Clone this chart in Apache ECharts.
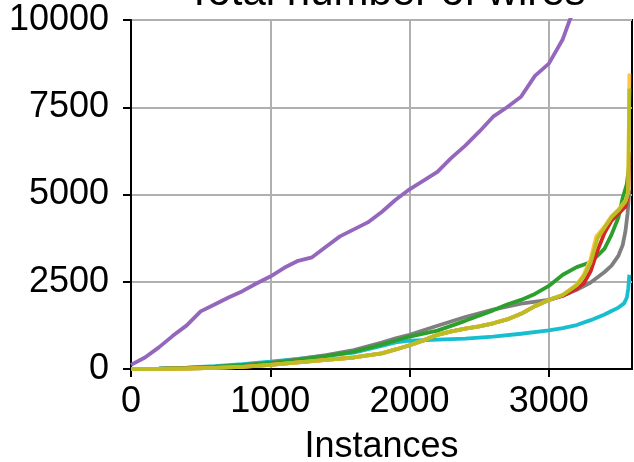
<!DOCTYPE html>
<html>
<head>
<meta charset="utf-8">
<script src="https://cdn.jsdelivr.net/npm/echarts@6/dist/echarts.min.js"></script>
<style>
html,body{margin:0;padding:0;background:#fff;}
#chart{width:634px;height:462px;}
</style>
</head>
<body>
<div id="chart"></div>
<script>
var xTicks = [0, 1000, 2000, 3000];
var yTicks = [0, 2500, 5000, 7500, 10000];

var purpleX = [0,100,200,300,400,500,600,700,800,900,1000,1100,1200,1300,1400,1500,1600,1700,1800,1900,2000,2100,2200,2300,2400,2500,2600,2700,2800,2900,3000,3100,3150,3200,3300,3400,3500,3578];
var purpleY = [120,330,620,950,1250,1650,1850,2050,2230,2450,2650,2900,3100,3200,3500,3800,4000,4200,4500,4850,5150,5400,5650,6050,6400,6800,7230,7500,7800,8400,8750,9450,10000,10400,11100,11900,12800,13600];

var cyanX = [0,200,400,600,800,1000,1200,1400,1600,1800,1900,2000,2200,2400,2600,2800,3000,3100,3200,3300,3400,3450,3500,3540,3560,3570,3578];
var cyanY = [0,10,40,80,140,210,290,380,470,660,760,810,840,870,930,1010,1110,1170,1260,1400,1560,1660,1760,1880,2050,2300,2700];

var grayX = [0,200,400,600,800,1000,1200,1400,1600,1800,1900,2000,2200,2400,2600,2800,3000,3100,3200,3300,3400,3450,3500,3530,3550,3565,3578];
var grayY = [0,10,30,60,110,180,280,400,540,760,880,980,1240,1490,1700,1870,1980,2100,2270,2480,2780,2960,3250,3550,3950,4450,5130];

var greenX = [0,200,400,600,800,1000,1200,1400,1600,1800,2000,2200,2400,2600,2700,2800,2900,3000,3100,3200,3300,3350,3400,3450,3500,3530,3560,3578];
var greenY = [0,10,30,60,110,170,260,370,500,700,930,1100,1380,1680,1850,1980,2150,2380,2700,2920,3060,3250,3450,3850,4350,4900,5300,5900];

var redX = [0,200,400,600,800,1000,1200,1400,1600,1800,1900,2000,2100,2200,2300,2400,2500,2600,2700,2800,2900,3000,3100,3200,3250,3300,3350,3400,3450,3500,3550,3570,3578];
var redY = [0,5,15,30,60,120,190,260,330,450,560,680,820,980,1080,1160,1220,1310,1420,1580,1800,1980,2100,2300,2450,2800,3400,3900,4250,4450,4650,5000,6200];

var orangeX = [0,200,400,600,800,1000,1200,1400,1600,1800,1900,2000,2100,2200,2300,2400,2500,2600,2700,2800,2900,3000,3100,3200,3250,3300,3340,3400,3450,3500,3550,3570,3578];
var orangeY = [0,5,15,30,60,120,190,260,330,450,560,680,820,980,1080,1160,1220,1310,1420,1580,1800,1980,2130,2420,2700,3150,3800,4080,4380,4570,4820,5070,8470];

var oliveX = [0,200,400,600,800,1000,1200,1400,1600,1800,1900,2000,2100,2200,2300,2400,2500,2600,2700,2800,2900,3000,3100,3200,3250,3300,3350,3400,3450,3500,3550,3570,3578];
var oliveY = [0,5,15,30,60,120,190,260,330,450,560,680,820,980,1080,1160,1220,1310,1420,1580,1800,1980,2120,2400,2650,3050,3750,4050,4350,4550,4800,5050,8040];

function pairs(xs, ys) {
  var out = [];
  for (var i = 0; i < xs.length; i++) out.push([xs[i], ys[i]]);
  return out;
}

var seriesDefs = [
  {name: 'purple', xs: purpleX, ys: purpleY, color: '#9467bd'},
  {name: 'cyan', xs: cyanX, ys: cyanY, color: '#17becf'},
  {name: 'gray', xs: grayX, ys: grayY, color: '#7f7f7f'},
  {name: 'green', xs: greenX, ys: greenY, color: '#2ca02c'},
  {name: 'red', xs: redX, ys: redY, color: '#d62728'},
  {name: 'orange', xs: orangeX, ys: orangeY, color: '#ffc44e'},
  {name: 'olive', xs: oliveX, ys: oliveY, color: '#bcbd22'}
];

var font = 'Liberation Sans, Arial, sans-serif';
var plain = function (v) { return String(v); };
var chart = echarts.init(document.getElementById('chart'), null, {renderer: 'canvas'});
chart.setOption({
  animation: false,
  backgroundColor: '#fff',
  title: {
    text: 'Total number of wires',
    left: 381, top: -33, textAlign: 'center',
    textStyle: {fontFamily: font, fontSize: 42, fontWeight: 'normal', color: '#000'}
  },
  grid: {left: 131, right: 2, top: 20, bottom: 93, show: true, borderColor: '#000', borderWidth: 2,
         backgroundColor: 'transparent', containLabel: false, outerBoundsMode: 'none'},
  xAxis: {
    type: 'value', min: 0, max: 3597, interval: 1000,
    name: 'Instances', nameLocation: 'middle', nameGap: 60,
    nameTextStyle: {fontFamily: font, fontSize: 36, color: '#000'},
    axisLine: {show: true, lineStyle: {color: '#000', width: 2}},
    axisTick: {show: true, length: 8, lineStyle: {color: '#000', width: 2}, customValues: xTicks},
    axisLabel: {fontFamily: font, fontSize: 36, color: '#000', margin: 15, customValues: xTicks, formatter: plain},
    splitLine: {show: true, lineStyle: {color: '#b0b0b0', width: 2}}
  },
  yAxis: {
    type: 'value', min: 0, max: 10000, interval: 2500,
    axisLine: {show: true, lineStyle: {color: '#000', width: 2}},
    axisTick: {show: true, length: 8, lineStyle: {color: '#000', width: 2}, customValues: yTicks},
    axisLabel: {fontFamily: font, fontSize: 36, color: '#000', margin: 22, customValues: yTicks, formatter: plain},
    splitLine: {show: true, lineStyle: {color: '#b0b0b0', width: 2}}
  },
  series: seriesDefs.map(function (s) {
    return {
      name: s.name, type: 'line', data: pairs(s.xs, s.ys),
      showSymbol: false, symbol: 'none', clip: true,
      lineStyle: {color: s.color, width: 3.8},
      itemStyle: {color: s.color}
    };
  })
});
</script>
</body>
</html>
